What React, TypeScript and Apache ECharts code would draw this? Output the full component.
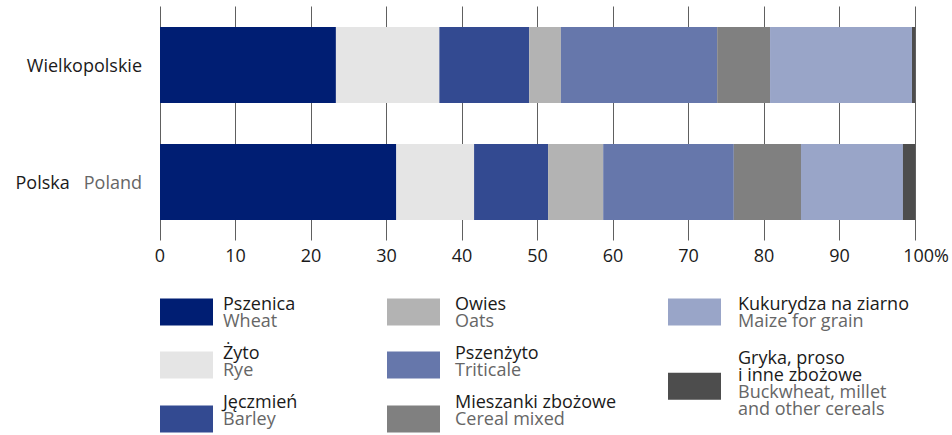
import React, { useEffect, useRef } from "react";
import * as echarts from "echarts";

const categories = ["Wielkopolskie", "Polska"];
const categoryEnglish = ["", "Poland"];
const cropNamesPl = [
  "Pszenica",
  "Żyto",
  "Jęczmień",
  "Owies",
  "Pszenżyto",
  "Mieszanki zbożowe",
  "Kukurydza na ziarno",
  "Gryka, proso i inne zbożowe",
];
const cropNamesEn = [
  "Wheat",
  "Rye",
  "Barley",
  "Oats",
  "Triticale",
  "Cereal mixed",
  "Maize for grain",
  "Buckwheat, millet and other cereals",
];
const wielkopolskieShares = [23.3, 13.7, 11.9, 4.2, 20.7, 7.0, 18.8, 0.4];
const polskaShares = [31.3, 10.3, 9.8, 7.3, 17.3, 8.9, 13.5, 1.6];

const colors = ["#001e73", "#e5e5e5", "#334a91", "#b3b3b3", "#6677ab", "#808080", "#99a5c8", "#4d4d4d"];

const FONT = "Open Sans";
const FS = 18;
const LH = 17;

// legend layout: [left, iconTop, textShift, textGap]
const legendLayout: [number, number, number, number][] = [
  [160, 298, -1, 5],
  [160, 351, -5, 5],
  [160, 405, -9.5, 5],
  [387, 298, -1, 10],
  [387, 351, -5, 10],
  [387, 405, -9.5, 10],
  [668, 298, -1, 12],
  [668, 372.3, -3.5, 12],
];

export default function App() {
  const ref = useRef<HTMLDivElement>(null);
  useEffect(() => {
    if (!ref.current) return;
    const chart = echarts.init(ref.current, null, { renderer: "svg" });

    const splitLabel = (i: number) => {
      let pl = cropNamesPl[i];
      let en = cropNamesEn[i];
      if (i === 7) {
        pl = "Gryka, proso\ni inne zbożowe";
        en = "Buckwheat, millet\nand other cereals";
      }
      return { pl: pl.split("\n"), en: en.split("\n") };
    };
    const legendLabel = (name: string) => {
      const { pl, en } = splitLabel(cropNamesPl.indexOf(name));
      return [...pl.map((s) => `{a|${s}}`), ...en.map((s) => `{b|${s}}`)].join("\n");
    };
    const rich = {
      a: { fontFamily: FONT, fontSize: FS, color: "#1a1a1a", lineHeight: LH },
      b: { fontFamily: FONT, fontSize: FS, color: "#666666", lineHeight: LH },
    };
    const iconH = 27;

    const legends = cropNamesPl.map((name, i) => {
      const [left, iconTop, shift, gap] = legendLayout[i];
      const { pl, en } = splitLabel(i);
      const textH = (pl.length + en.length) * LH;
      const pad = Math.abs(shift) * 2;
      const boxH = textH + pad;
      const top = iconTop + iconH / 2 - Math.max(iconH / 2, boxH / 2);
      return {
        orient: "vertical",
        icon: "rect",
        itemWidth: 53,
        itemHeight: iconH,
        padding: 0,
        left,
        top,
        height: 200,
        selectedMode: false,
        formatter: legendLabel,
        data: [name],
        textStyle: {
          rich,
          padding: shift < 0 ? [0, 0, pad, gap] : [pad, 0, 0, gap],
        },
      };
    });

    chart.setOption({
      animation: false,
      color: colors,
      grid: { left: 160, right: 37, top: 6.5, bottom: 194.5 },
      xAxis: {
        type: "value",
        min: 0,
        max: 100,
        interval: 10,
        axisLine: { show: false },
        axisTick: { show: false },
        splitLine: { show: true, lineStyle: { color: "#606060", width: 1 } },
        axisLabel: {
          margin: 5.5,
          fontFamily: FONT,
          fontSize: FS,
          color: "#1a1a1a",
          formatter: (v: number) => (v === 100 ? "{p|100%}" : String(v)),
          rich: { p: { fontFamily: FONT, fontSize: FS, color: "#1a1a1a", padding: [0, 0, 0, 22] } },
        },
      },
      yAxis: {
        type: "category",
        inverse: true,
        data: categories,
        axisLine: { show: false },
        axisTick: { show: false },
        axisLabel: {
          margin: 18,
          fontFamily: FONT,
          fontSize: FS,
          color: "#1a1a1a",
          formatter: (v: string) => {
            const i = categories.indexOf(v);
            return categoryEnglish[i] ? `{a|${v}}{b|${categoryEnglish[i]}}` : `{a|${v}}`;
          },
          rich: {
            a: { fontFamily: FONT, fontSize: FS, color: "#1a1a1a" },
            b: { fontFamily: FONT, fontSize: FS, color: "#666666", padding: [0, 0, 0, 14] },
          },
        },
      },
      legend: legends,
      series: cropNamesPl.map((name, i) => ({
        name,
        type: "bar",
        stack: "total",
        barWidth: 76,
        data: [wielkopolskieShares[i], polskaShares[i]],
      })),
    });
    return () => chart.dispose();
  }, []);
  return <div ref={ref} style={{ width: 952, height: 435, position: "absolute", left: 0, top: 0 }} />;
}
